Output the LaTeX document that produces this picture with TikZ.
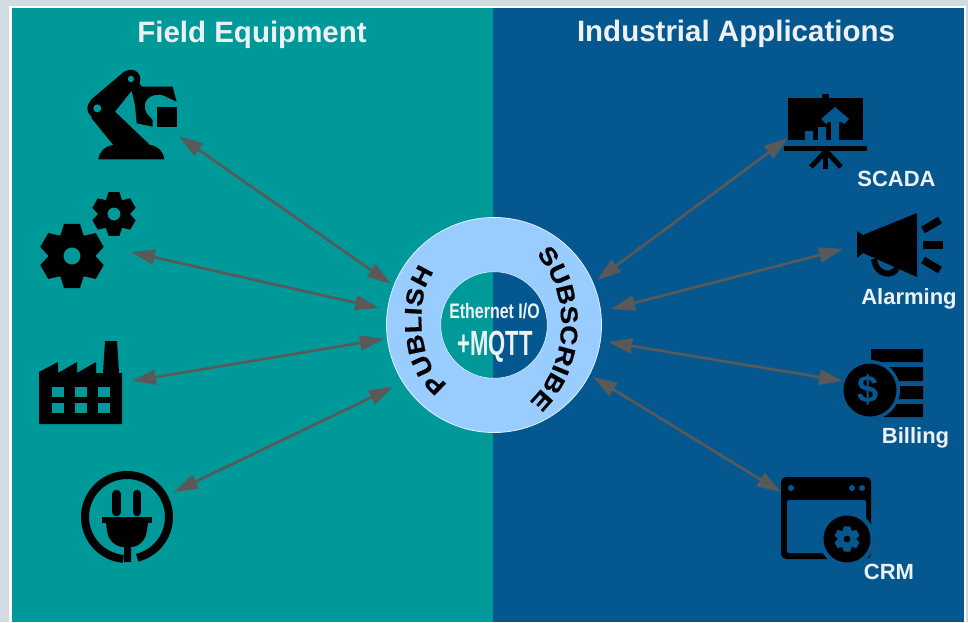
\documentclass[tikz,border=0pt]{standalone}
\usepackage{fontspec}
\setmainfont{Liberation Sans}
\newfontfamily\ringfont{Liberation Sans}[BoldFeatures={FakeStretch=1.15,FakeBold=0.6}]
\usetikzlibrary{arrows.meta,decorations.text}
\definecolor{bgGrey}{HTML}{D0DCE2}
\definecolor{teal}{HTML}{009999}
\definecolor{deepblue}{HTML}{05588F}
\definecolor{hubblue}{HTML}{99CCFF}
\definecolor{linkgrey}{HTML}{595959}
\definecolor{labelwhite}{HTML}{EDF1F4}
\tikzset{
  link/.style={draw=linkgrey,line width=2.6pt,{Triangle[length=24pt,width=15pt]}-{Triangle[length=24pt,width=15pt]}},
  title/.style={text=labelwhite,font=\fontsize{29.5}{30}\selectfont\bfseries,inner sep=0pt},
  applabel/.style={text=labelwhite,font=\fontsize{22}{24}\selectfont\bfseries,inner sep=0pt},
  hubtext/.style={text=labelwhite,inner sep=0pt},
}
\newcommand{\cogfill}[5]{% cx cy R hole colour
  \begin{scope}[shift={(#1,#2)},scale=#3]
    \fill[#5,even odd rule] (2:.72) \foreach \a in {30,90,...,330} { -- (\a-29:.72) -- (\a-14:1) -- (\a+14:1) -- (\a+29:.72)} -- cycle (0,0) circle (#4);
  \end{scope}}
\begin{document}
\begin{tikzpicture}[x=1pt,y=-1pt]
\useasboundingbox (0,0) rectangle (968,622);
\fill[bgGrey] (0,0) rectangle (968,622);
\fill[white] (9,6) rectangle (966,622);
\fill[teal] (12,8) rectangle (493,622);
\fill[deepblue] (493,8) rectangle (964,622);
% titles
\node[title] (tfield) at (252,35) {Field Equipment};
\node[title] (tind) at (736,34) {Industrial Applications};
% anchors of the connectors
\coordinate (robot) at (179,136); \coordinate (hubA) at (391,284);
\coordinate (gears) at (131,252); \coordinate (hubB) at (379,308);
\coordinate (factory) at (132,381); \coordinate (hubC) at (384,339);
\coordinate (plug) at (174,492); \coordinate (hubD) at (393,387);
\coordinate (scada) at (788,138); \coordinate (hubE) at (597,280);
\coordinate (alarm) at (843,249); \coordinate (hubF) at (611,309);
\coordinate (bill) at (843,381); \coordinate (hubG) at (608,342);
\coordinate (crm) at (781,492); \coordinate (hubH) at (593,377);
\foreach \p/\q in {robot/hubA,gears/hubB,factory/hubC,plug/hubD,scada/hubE,alarm/hubF,bill/hubG,crm/hubH}
  \draw[link] (\p) -- (\q);
% hub
\node[circle,minimum size=215pt,inner sep=0pt,fill=hubblue,draw=white!70!hubblue,line width=.8pt] (hub) at (494,325) {};
\begin{scope}
  \clip (494,325) circle (53.3);
  \fill[teal] (440,270) rectangle (493,380);
  \fill[deepblue] (493,270) rectangle (550,380);
\end{scope}
\draw[white!70!hubblue,line width=.6pt] (494,325) circle (53.3);
\node[hubtext,font=\fontsize{21}{22}\selectfont\bfseries] (eth) at (494.5,311) {\scalebox{.76}[1]{Ethernet I/O}};
\node[hubtext,font=\fontsize{35}{36}\selectfont\bfseries] (mqtt) at (495,347) {\scalebox{.63}[1]{+MQTT}};
\path[decorate,decoration={text along path,text align={fit to path},text={|\ringfont\fontsize{24}{24}\selectfont\bfseries|PUBLISH}}]
  (448,384) .. controls (415,365) and (415,290) .. (435,272);
\path[decorate,decoration={text along path,text align={fit to path},text={|\ringfont\fontsize{24}{24}\selectfont\bfseries|SUBSCRIBE}}]
  (536,254) .. controls (570,290) and (570,360) .. (533,398);
% robot arm
\begin{scope}[shift={(80,60)},scale=.3333]
  \fill (32,120) -- (135,33) -- (175,65) -- (185,80) -- (278,80) -- (290,125) -- (262,112) .. controls (235,92) and (175,110) .. (200,160) -- (218,180) -- (218,200) -- (170,190) -- (165,135) -- (155,92) -- (105,155) -- (210,255) .. controls (235,258) and (250,275) .. (253,298) -- (55,298) .. controls (58,275) and (75,258) .. (100,255) -- (35,175) -- cycle;
  \fill (52,145) circle (30);
  \fill (153,57) circle (28);
  \fill[teal] (52,145) circle (12);
  \fill[teal] (153,57) circle (9.5);
  \fill (232,140) rectangle (292,200);
\end{scope}
% gears
\cogfill{72}{256}{33}{.26}{black}
\cogfill{114}{214}{22.5}{.29}{black}
% factory
\fill (39,372) -- (58,362) -- (58,373) -- (77,362) -- (77,373) -- (96,362) -- (96,373) -- (103,373) -- (105,341) -- (117,341) -- (119,373) -- (122,373) -- (122,424) -- (39,424) -- cycle;
\foreach \wx in {52,75,98} \foreach \wy in {387,403}
  \fill[teal] (\wx,\wy) rectangle ++(11.5,9.5);
% plug
\draw[line width=8pt] (127,517) ++(76:42) arc[start angle=76,end angle=-265,radius=42];
\draw[line width=8.5pt,line cap=round] (116.5,494) -- (116.5,512);
\draw[line width=8.5pt,line cap=round] (137,494) -- (137,512);
\fill (102,517) rectangle (152,523);
\fill (106,523) -- (148,523) -- (147,530) .. controls (146,541) and (138,547) .. (131,547) -- (131,562) -- (124,562) -- (124,547) .. controls (116,547) and (108,541) .. (107,530) -- cycle;
% SCADA board
\fill (788,98) rectangle (863,140);
\fill (822,94) rectangle (829,98);
\fill (784,146) rectangle (867,151);
\fill[deepblue] (805,131) rectangle (813,140) (818,127) rectangle (826,140) (831,120) rectangle (839,140);
\fill[deepblue] (835,107) -- (849,119) -- (844,124) -- (835,116) -- (826,124) -- (821,119) -- cycle;
\fill[deepblue] (829,116) -- (835,110) -- (841,116) -- (841,122) -- (829,122) -- cycle;
\fill (823,151) rectangle (828,169);
\draw[line width=5pt] (826,151) -- (811,167) (826,151) -- (841,167);
\node[applabel] (lscada) at (896.5,179) {SCADA};
% megaphone
\fill (857,231) -- (863,235) -- (917,213) -- (917,277) -- (863,253) -- (857,258) -- cycle;
\draw[line width=6pt] (874,259) .. controls (876,276) and (893,277) .. (897,268);
\draw[line width=7.5pt] (923,230) -- (940,220) (923,260) -- (940,270);
\fill (923,241) rectangle (943,249);
\node[applabel] (lalarm) at (909,299) {Alarming};
% billing
\fill (871,349) rectangle (923,362) (871,367) rectangle (923,381) (871,386) rectangle (923,399) (871,404) rectangle (923,417);
\fill[deepblue] (870,390) circle (30);
\fill (870,390) circle (26.5);
\node[text=deepblue,inner sep=0pt,font=\fontsize{38}{38}\selectfont\bfseries] (dollar) at (868.5,390) {\$};
\node[applabel] (lbill) at (915.5,438) {Billing};
% CRM window
\fill[rounded corners=5pt] (781,477) rectangle (871,559);
\fill[deepblue,rounded corners=2pt] (787,500) rectangle (866,553);
\foreach \dx in {791,852,862} \fill[deepblue] (\dx,488) circle (3);
\fill[deepblue] (847,539) circle (28);
\fill (847,539) circle (23.5);
\cogfill{847}{539}{13}{.27}{deepblue}
\node[applabel] (lcrm) at (889,572) {CRM};
\end{tikzpicture}
\end{document}
